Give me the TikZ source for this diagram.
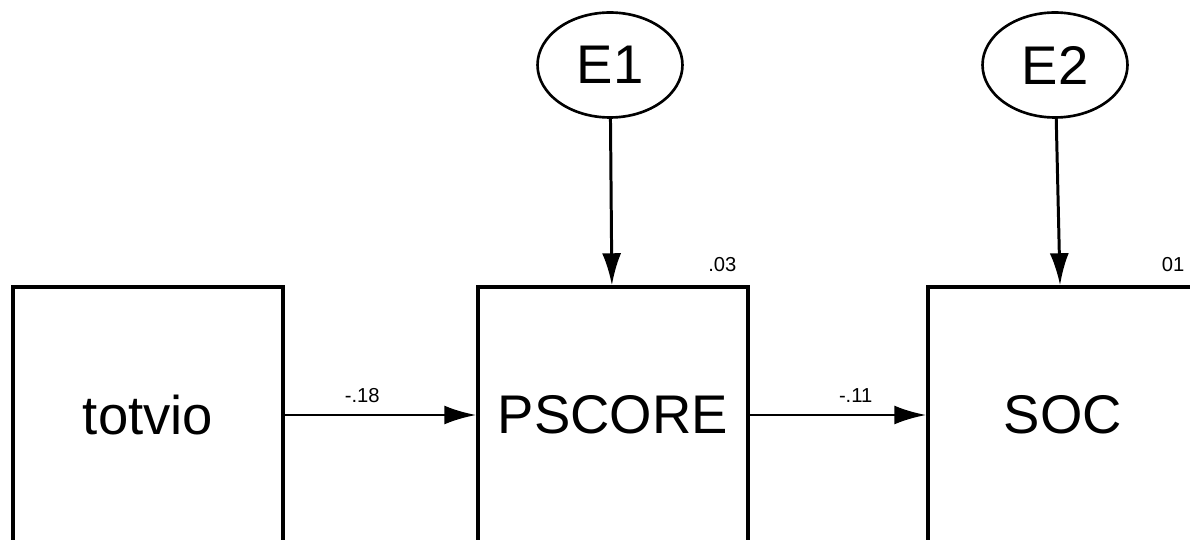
\documentclass[tikz,border=0pt]{standalone}
\usepackage{fontspec}
\setmainfont{Liberation Sans}
\usetikzlibrary{arrows.meta, positioning}
\usetikzlibrary{shapes.geometric}

\begin{document}
\begin{tikzpicture}[x=0.02cm, y=-0.02cm,
  var/.style={rectangle, draw, line width=2pt, minimum width=5.4cm, minimum height=5.12cm, font=\fontsize{31}{33}\selectfont},
  err/.style={ellipse, draw, line width=1.5pt, minimum width=2.9cm, minimum height=2.1cm, inner sep=0pt, font=\fontsize{31}{33}\selectfont},
  path/.style={line width=1.7pt, -{Latex[length=0.64cm, width=0.38cm]}},
  coef/.style={font=\fontsize{11.5}{13}\selectfont, inner sep=0pt}]
\useasboundingbox (0,0) rectangle (1190,540);
\node[var] (totvio) at (148,415) {totvio};
\node[var] (pscore) at (613,415) {PSCORE};
\node[var] (soc) at (1063,415) {SOC};
\node[err] (e1) at (610,65) {E1};
\node[err] (e2) at (1055,65) {E2};
\draw[path] (totvio) -- node[coef, above=0.22cm, pos=0.405] {-.18} (pscore);
\draw[path] (pscore) -- node[coef, above=0.22cm, pos=0.6] {-.11} (soc);
\draw[path] (e1) -- (pscore);
\draw[path] (e2) -- (soc);
\node[coef, anchor=south east, xshift=-0.26cm, yshift=0.26cm] (r1) at (pscore.north east) {.03};
\node[coef, anchor=south east, xshift=-0.3cm, yshift=0.26cm] (r2) at (soc.north east) {01};
\end{tikzpicture}
\end{document}
